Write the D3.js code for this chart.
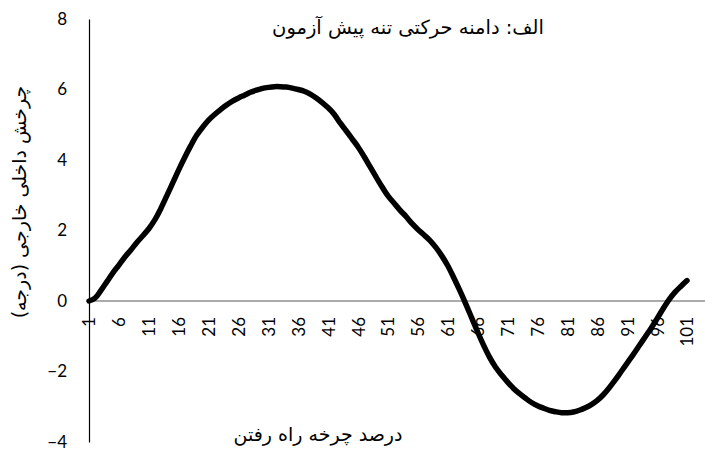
<!DOCTYPE html>
<html><head><meta charset="utf-8">
<script src="https://cdn.jsdelivr.net/npm/d3@7"></script>
<style>body{margin:0;background:#fff}svg{display:block}</style>
</head><body>
<script>
const categories = d3.range(1, 102);
const values = [0.0,0.08,0.3,0.55,0.8,1.02,1.25,1.45,1.66,1.85,
2.05,2.3,2.62,2.98,3.35,3.72,4.07,4.4,4.7,4.93,
5.13,5.29,5.43,5.56,5.67,5.76,5.84,5.92,5.98,6.03,
6.06,6.08,6.08,6.07,6.04,6.0,5.95,5.87,5.76,5.63,
5.48,5.3,5.05,4.83,4.6,4.37,4.1,3.81,3.52,3.24,
2.98,2.78,2.58,2.4,2.2,2.03,1.88,1.72,1.52,1.28,
1.0,0.66,0.3,-0.08,-0.48,-0.88,-1.26,-1.6,-1.88,-2.1,
-2.3,-2.48,-2.63,-2.76,-2.88,-2.97,-3.04,-3.1,-3.14,-3.17,
-3.17,-3.15,-3.1,-3.03,-2.94,-2.82,-2.66,-2.46,-2.24,-2.0,
-1.76,-1.52,-1.27,-1.02,-0.77,-0.5,-0.22,0.04,0.25,0.42,0.58];
const yTicks = [-4,-2,0,2,4,6,8];
const xTickLabels = categories.filter(c => (c - 1) % 5 === 0);
const title = "الف: دامنه حرکتی تنه پیش آزمون";
const xTitle = "درصد چرخه راه رفتن";
const yTitle = "چرخش داخلی خارجی (درجه)";

const W = 705, H = 453;
const svg = d3.select("body").append("svg").attr("width", W).attr("height", H);
const x = d3.scaleLinear().domain([1, 101]).range([89, 687]);
const y = d3.scaleLinear().domain([-4, 8]).range([442, 19]);
const numFont = "Lato, 'Open Sans', sans-serif";
const faFont = "'DejaVu Sans', sans-serif";

// y axis
const yAxis = d3.axisLeft(y).tickValues(yTicks).tickSize(0).tickPadding(22).tickFormat(d3.format("d"));
const gy = svg.append("g").attr("transform", `translate(${x(1)},0)`).call(yAxis);
gy.select(".domain").attr("stroke", "#000").attr("stroke-width", 1.2);
gy.selectAll("text").attr("font-family", numFont).attr("font-size", 17).attr("fill", "#000");

// x axis
svg.append("line").attr("x1", x(1)).attr("x2", W).attr("y1", y(0)).attr("y2", y(0))
  .attr("stroke", "#595959").attr("stroke-width", 1.2);
const xAxis = d3.axisBottom(x).tickValues(xTickLabels).tickSize(0).tickFormat(d3.format("d"));
const gx = svg.append("g").attr("transform", `translate(0,${y(0)})`).call(xAxis);
gx.select(".domain").remove();
gx.selectAll("text")
  .attr("font-family", numFont).attr("font-size", 17).attr("fill", "#000")
  .attr("transform", "rotate(-90)")
  .attr("text-anchor", "end")
  .attr("x", -16).attr("y", 0).attr("dy", "0.35em");

// line
const line = d3.line().x((d, i) => x(categories[i])).y(d => y(d)).curve(d3.curveCatmullRom.alpha(0.5));
svg.append("path").datum(values).attr("d", line)
  .attr("fill", "none").attr("stroke", "#000").attr("stroke-width", 5.5)
  .attr("stroke-linecap", "round").attr("stroke-linejoin", "round");

// titles
svg.append("text").attr("x", 408).attr("y", 34).attr("text-anchor", "middle")
  .attr("font-family", faFont).attr("font-size", 19.5).text(title);
svg.append("text").attr("x", 318).attr("y", 441).attr("text-anchor", "middle")
  .attr("font-family", faFont).attr("font-size", 19).text(xTitle);
svg.append("text").attr("transform", "translate(26,202) rotate(-90)").attr("text-anchor", "middle")
  .attr("font-family", faFont).attr("font-size", 19).text(yTitle);
</script>
</body></html>
